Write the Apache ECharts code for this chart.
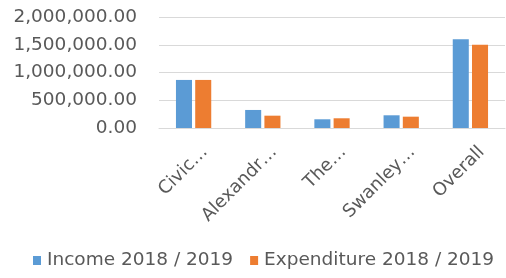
<!DOCTYPE html>
<html>
<head>
<meta charset="utf-8">
<script src="https://cdn.jsdelivr.net/npm/echarts@6/dist/echarts.min.js"></script>
<style>
  html, body { margin: 0; padding: 0; background: #fff; }
  #chart { width: 506px; height: 278px; }
</style>
</head>
<body>
<div id="chart"></div>
<script>
// category names as shown (truncated in the source chart)
var categories = ['Civic…', 'Alexandr…', 'The…', 'Swanley…', 'Overall'];
var income = [866000, 325000, 157000, 229000, 1601000];
var expenditure = [866000, 222000, 175000, 204000, 1498000];
var seriesNames = ['Income 2018 / 2019', 'Expenditure 2018 / 2019'];
var yTicks = [0, 500000, 1000000, 1500000, 2000000];

var FONT = '"DejaVu Sans", sans-serif';
var GRAY = '#595959';

var chart = echarts.init(document.getElementById('chart'));

function fmt(v) {
    return v.toLocaleString('en-US', { minimumFractionDigits: 2, maximumFractionDigits: 2 });
}

chart.setOption({
    animation: false,
    color: ['#5B9BD5', '#ED7D31'],
    grid: { left: 159, right: 1, top: 17, bottom: 150 },
    legend: {
        left: 33,
        top: 251,
        width: 473,
        padding: 0,
        itemWidth: 8,
        itemHeight: 9,
        itemGap: 17,
        icon: 'rect',
        data: seriesNames,
        textStyle: { color: GRAY, fontSize: 18.5, fontFamily: FONT, padding: [0, 0, 0, 1] }
    },
    xAxis: {
        type: 'category',
        data: categories,
        axisLine: { lineStyle: { color: '#d9d9d9' } },
        axisTick: { show: false },
        axisLabel: {
            rotate: 45,
            interval: 0,
            margin: 10,
            verticalAlign: 'top',
            padding: [7, 0, 0, 0],
            color: GRAY,
            fontSize: 18,
            fontFamily: FONT
        }
    },
    yAxis: {
        type: 'value',
        min: yTicks[0],
        max: yTicks[yTicks.length - 1],
        interval: yTicks[1] - yTicks[0],
        axisLine: { show: false },
        axisTick: { show: false },
        splitLine: { lineStyle: { color: '#d9d9d9' } },
        axisLabel: {
            margin: 22,
            color: GRAY,
            fontSize: 18.5,
            fontFamily: FONT,
            formatter: fmt
        }
    },
    series: [
        { name: seriesNames[0], type: 'bar', data: income, barGap: '20%', barCategoryGap: '49%' },
        { name: seriesNames[1], type: 'bar', data: expenditure }
    ]
});
</script>
</body>
</html>
